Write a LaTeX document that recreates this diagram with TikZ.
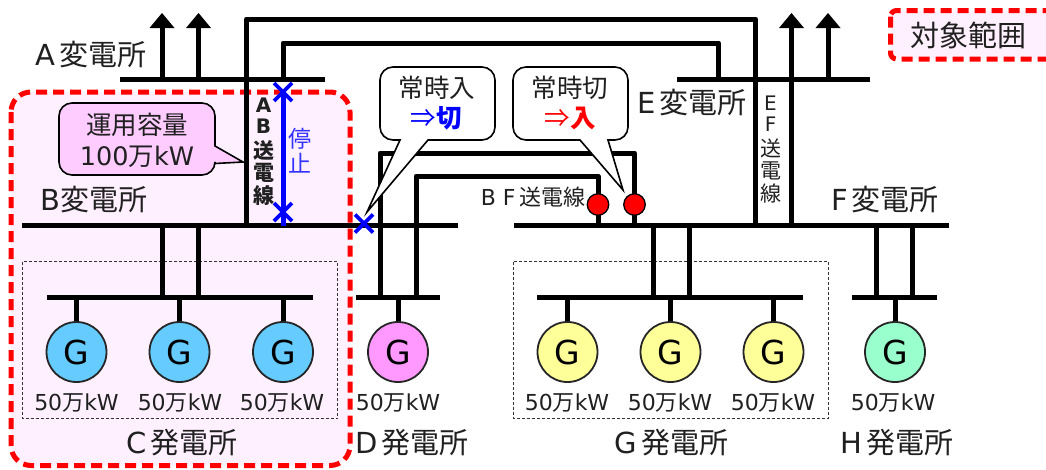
\documentclass[tikz,border=0pt]{standalone}
\usepackage{fontspec}
\usetikzlibrary{calc}
\setmainfont{DejaVu Sans}
\newfontfamily\jp{Noto Sans CJK JP}
\newcommand{\J}[1]{{\jp #1}}
\newcommand{\Gap}{\hspace{4pt}}
\definecolor{txt}{HTML}{202020}
\definecolor{areapink}{HTML}{FEF0FE}
\definecolor{capfill}{HTML}{FFCCFF}
\definecolor{gblue}{HTML}{66CCFF}
\definecolor{gpink}{HTML}{FF99FF}
\definecolor{gyellow}{HTML}{FFFF99}
\definecolor{ggreen}{HTML}{99FFCC}
\definecolor{stopblue}{HTML}{0000FF}
\definecolor{stoptxt}{HTML}{3333FF}
\tikzset{
  bus/.style={rectangle,fill=black,inner sep=0pt,minimum height=5.5pt},
  wire/.style={line width=5pt,black},
  gen/.style={circle,draw=black!85,line width=1.8pt,minimum size=60pt,inner sep=0pt,font=\fontsize{33}{34}\selectfont,text=black},
  lab/.style={font=\fontsize{29}{30}\selectfont,text=txt,inner sep=0pt},
  mw/.style={font=\fontsize{22}{24}\selectfont,text=txt,inner sep=0pt},
  ctext/.style={font=\fontsize{25.5}{30}\selectfont,inner sep=0pt},
  scope area/.style={draw=red,fill=areapink,line width=5pt,dash pattern=on 11pt off 6pt},
  group box/.style={draw=black!80,line width=0.9pt,dash pattern=on 3pt off 2pt},
  callout/.style={draw=black,line width=1.6pt,fill=white},
  cross/.style={stopblue,line width=3.6pt},
  sw/.style={circle,fill=red,draw=black,line width=1.3pt,minimum size=21.5pt,inner sep=0pt},
  vtext/.style={font=\fontsize{21}{21}\selectfont,text=txt,inner sep=0pt},
  vlatin/.style={font=\fontsize{20}{20}\selectfont,text=txt,inner sep=0pt},
}
\begin{document}
\begin{tikzpicture}[x=1pt,y=-1pt]
\useasboundingbox (0,0) rectangle (1046,469);
\fill[white] (0,0) rectangle (1046,469);
% scope regions
\path[scope area,rounded corners=20pt] (11,92) rectangle (350,465.5);
\begin{scope}
\clip (0,0) rectangle (1046,469);
\path[scope area,rounded corners=6pt] (890.5,10.5) rectangle (1075,59);
\end{scope}
\node[lab] (scopelab) at (968,35) {\J{対象範囲}};
% dashed groups
\draw[group box] (22.5,261.5) rectangle (337.5,418.5);
\draw[group box] (513.5,261.5) rectangle (828,418.5);
% buses
\node[bus,minimum width=205pt] (busA) at (222.5,79.5) {};
\node[bus,minimum width=193pt] (busE) at (773.5,79.5) {};
\node[bus,minimum width=436pt] (busB) at (240,225.5) {};
\node[bus,minimum width=435pt] (busF) at (731.5,225.5) {};
\node[bus,minimum width=266pt] (busC) at (180,297.5) {};
\node[bus,minimum width=84pt] (busD) at (398,297.5) {};
\node[bus,minimum width=266pt] (busG) at (670,297.5) {};
\node[bus,minimum width=85pt] (busH) at (894.5,297.5) {};
% arrow tips
\coordinate (a1) at (162,13); \coordinate (a2) at (198.5,13);
\coordinate (e1) at (791.5,13); \coordinate (e2) at (828,13);
\foreach \p in {a1,a2,e1,e2}{
  \fill[black] (\p) -- ++(12.5,15) -- ++(-25,0) -- cycle;
}
\draw[wire] (a1 |- 0,26) -- (a1 |- busA);
\draw[wire] (a2 |- 0,26) -- (a2 |- busA);
\draw[wire] (e1 |- 0,26) -- (e1 |- busF);
\draw[wire] (e2 |- 0,26) -- (e2 |- busE);
% AB / EF lines
\coordinate (abTop) at (246.5,19);
\coordinate (efTop) at (755.5,19);
\draw[wire,line join=round] (abTop |- busB) -- (abTop) -- (efTop) -- (efTop |- busF);
\coordinate (ab2Top) at (283,43);
\coordinate (e2Top) at (718.5,43);
\draw[wire,line join=round] (ab2Top |- busA) -- (ab2Top) -- (e2Top) -- (e2Top |- busE);
% BF lines
\coordinate (bf1L) at (380,153);
\coordinate (bf1R) at (634.5,153);
\coordinate (bf2L) at (416,176);
\coordinate (bf2R) at (598,176);
\draw[wire,line join=round] (bf1L |- busD) -- (bf1L) -- (bf1R) -- (bf1R |- busF);
\draw[wire,line join=round] (bf2L |- busD) -- (bf2L) -- (bf2R) -- (bf2R |- busF);
% station feeders
\draw[wire] (162,0 |- busB) -- (162,0 |- busC);
\draw[wire] (198.5,0 |- busB) -- (198.5,0 |- busC);
\draw[wire] (653,0 |- busF) -- (653,0 |- busG);
\draw[wire] (689,0 |- busF) -- (689,0 |- busG);
\draw[wire] (876.5,0 |- busF) -- (876.5,0 |- busH);
\draw[wire] (912.5,0 |- busF) -- (912.5,0 |- busH);
% generators
\foreach \n/\x/\c/\b in {c1/76.5/gblue/busC,c2/179.5/gblue/busC,c3/283/gblue/busC,d1/398/gpink/busD,g1/567.5/gyellow/busG,g2/670.5/gyellow/busG,g3/773.5/gyellow/busG,h1/895/ggreen/busH}{
  \node[gen,fill=\c] (\n) at (\x,352) {G};
  \draw[wire] (\n.north) -- (\n |- \b);
}
\foreach \n/\x in {m1/76.5,m2/180,m3/282,m4/398,m5/567,m6/670,m7/773,m8/893}{
  \node[mw] (\n) at (\x,403) {50\J{万}kW};
}
% stopped line and crosses
\coordinate (st1) at (283,92);
\coordinate (st2) at (283,212);
\draw[stopblue,line width=5pt] (st1) -- (st2 |- busB);
\draw[cross] ($(st1)+(-9,-9)$) -- ($(st1)+(9,9)$) ($(st1)+(-9,9)$) -- ($(st1)+(9,-9)$);
\draw[cross] ($(st2)+(-9,-9)$) -- ($(st2)+(9,9)$) ($(st2)+(-9,9)$) -- ($(st2)+(9,-9)$);
\coordinate (st3) at (364,223.5);
\draw[cross] ($(st3)+(-9,-9)$) -- ($(st3)+(9,9)$) ($(st3)+(-9,9)$) -- ($(st3)+(9,-9)$);
% switches
\node[sw] (sw1) at (598,204.5) {};
\node[sw] (sw2) at (634.5,204.5) {};
% callouts
\draw[callout,fill=capfill,rounded corners=13pt] (215,146) -- (215,103) -- (59,103) -- (59,175) -- (215,175) [sharp corners] -- (215,163.5) -- (243,162) -- cycle;
\node[ctext,text=txt] (cap1) at (137,125) {\J{運用容量}};
\node[ctext,text=txt] (cap2) at (137,157) {100\J{万}kW};
\draw[callout,rounded corners=13pt] (428,140) -- (495,140) -- (495,67) -- (380,67) -- (380,140) [sharp corners] -- (400,140) -- (367,212) -- cycle;
\draw[callout,rounded corners=13pt] (608,140) -- (628,140) -- (628,67) -- (513,67) -- (513,140) [sharp corners] -- (580,140) -- (623,190) -- cycle;
\node[ctext,text=txt] (on1) at (437,88) {\J{常時入}};
\node[ctext,text=stopblue] (on2) at (436,118) {\J{⇒\textbf{切}}};
\node[ctext,text=txt] (off1) at (570,88) {\J{常時切}};
\node[ctext,text=red] (off2) at (570,118) {\J{⇒\textbf{入}}};
% labels
\node[lab] (lA) at (91,55) {A\Gap\J{変電所}};
\node[lab] (lB) at (94,200) {B\J{変電所}};
\node[lab] (lE) at (692,103) {E\Gap\J{変電所}};
\node[lab] (lF) at (885,200) {F\Gap\J{変電所}};
\node[lab] (lC) at (182,443) {C\Gap\J{発電所}};
\node[lab] (lD) at (412,443) {D\Gap\J{発電所}};
\node[lab] (lG) at (671.5,443) {G\Gap\J{発電所}};
\node[lab] (lH) at (897,443) {H\Gap\J{発電所}};
\node[font=\fontsize{22}{24}\selectfont,text=txt,inner sep=0pt] (lBF) at (533,197) {B F\,\J{送電線}};
\foreach \t/\y/\i in {A/105/1,B/126/2}{
  \node[vlatin,font=\fontsize{20}{20}\selectfont\bfseries] (ab\i) at (263.5,\y) {\t};
}
\foreach \t/\y/\i in {\J{送}/150/3,\J{電}/172.5/4,\J{線}/195/5}{
  \node[vtext,font=\fontsize{21}{21}\selectfont\bfseries] (ab\i) at (263.5,\y) {\t};
}
\foreach \t/\y/\i in {E/103/1,F/124.5/2}{
  \node[vlatin] (ef\i) at (770.5,\y) {\t};
}
\foreach \t/\y/\i in {\J{送}/148/3,\J{電}/171/4,\J{線}/194/5}{
  \node[vtext] (ef\i) at (770.5,\y) {\t};
}
\node[vtext,font=\fontsize{23}{23}\selectfont,text=stoptxt] (t1) at (300,139) {\J{停}};
\node[vtext,font=\fontsize{23}{23}\selectfont,text=stoptxt] (t2) at (300,163) {\J{止}};
\end{tikzpicture}
\end{document}
